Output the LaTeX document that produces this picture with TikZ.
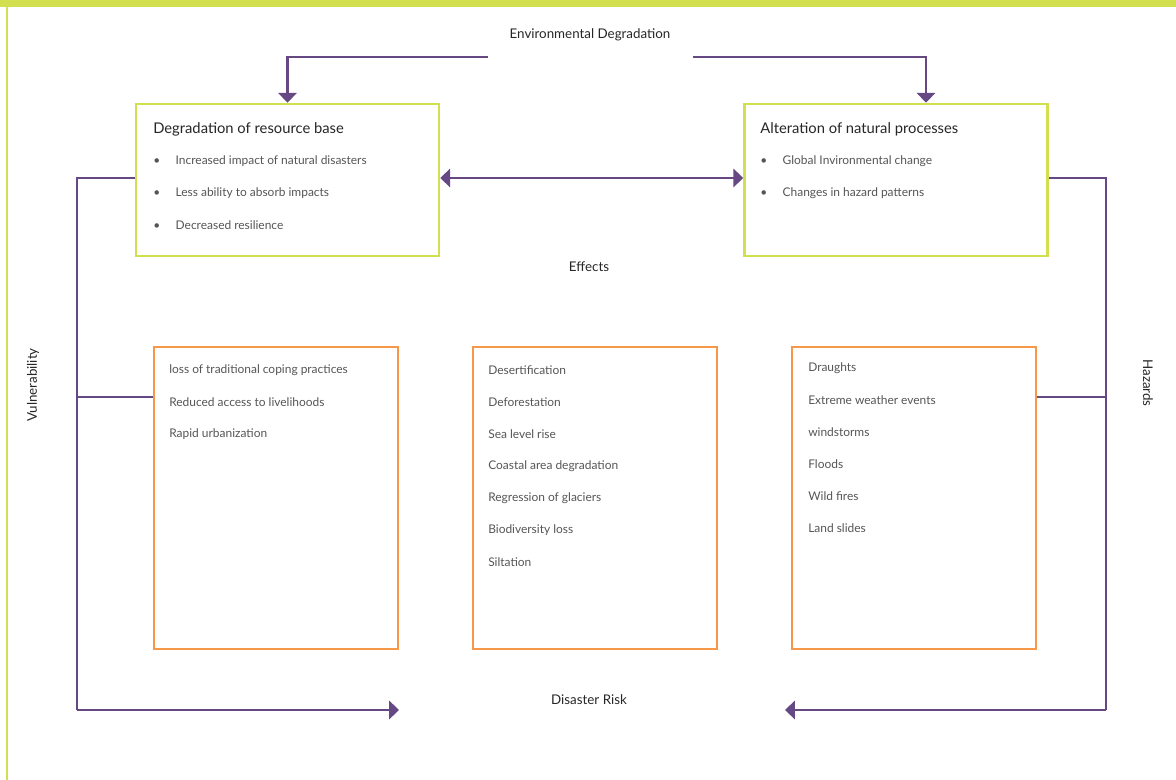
\documentclass[tikz,border=0pt]{standalone}
\usepackage{fontspec}
\setmainfont{Lato}
\usetikzlibrary{arrows.meta,positioning}
\definecolor{lime}{RGB}{210,224,80}
\definecolor{plum}{RGB}{102,72,132}
\definecolor{tang}{RGB}{247,152,72}
\definecolor{ink}{RGB}{85,85,85}

\begin{document}
\begin{tikzpicture}[
  x=0.025cm, y=-0.025cm,
  >={Triangle[length=7pt,width=13pt]},
  effbox/.style={draw=lime,line width=1.8pt,minimum width=303*0.025cm,
                 minimum height=152*0.025cm,inner sep=0pt},
  listbox/.style={draw=tang,line width=1.5pt,minimum width=244*0.025cm,
                  minimum height=302*0.025cm,inner sep=0pt},
  head/.style={font=\fontsize{10.5}{12}\selectfont,text=black!85,anchor=west,inner sep=0pt},
  item/.style={font=\fontsize{8.5}{10}\selectfont,text=ink,anchor=west,inner sep=0pt},
  lbl/.style={font=\fontsize{9.5}{11}\selectfont,text=black!85,inner sep=0pt},
  link/.style={plum,line width=1.8pt},
  arr/.style={->,plum,line width=1.8pt}
]
\useasboundingbox (0,0) rectangle (1176,780);
\fill[lime] (0,0) rectangle (1176,7);
\draw[lime,line width=1.5pt] (7,7) -- (7,780);

% top boxes
\node[effbox] (deg) at (287.5,180) {};
\node[effbox] (alt) at (896,180) {};
\node[head] (degT) at (153,129) {Degradation of resource base};
\node[head] (altT) at (760,129) {Alteration of natural processes};
\foreach \t [count=\i] in {Increased impact of natural disasters,
    Less ability to absorb impacts,Decreased resilience}{
  \node[item] at (153,129+32*\i) {\textbullet\hspace{11pt}\t};
}
\foreach \t [count=\i] in {Global Invironmental change,
    Changes in hazard patterns}{
  \node[item] at (760,129+32*\i) {\textbullet\hspace{11pt}\t};
}

% list boxes
\node[listbox] (vul) at (276,498) {};
\node[listbox] (eff) at (595,498) {};
\node[listbox] (haz) at (914,498) {};
\foreach \t [count=\i] in {loss of traditional coping practices,
    Reduced access to livelihoods,Rapid urbanization}{
  \node[item] at (169,338+32*\i) {\t};
}
\foreach \t [count=\i] in {Desertification,Deforestation,Sea level rise,
    Coastal area degradation,Regression of glaciers,Biodiversity loss,Siltation}{
  \node[item] at (488,338+32*\i) {\t};
}
\foreach \t [count=\i] in {Draughts,Extreme weather events,windstorms,
    Floods,Wild fires,Land slides}{
  \node[item] at (808,336+32*\i) {\t};
}

% labels
\node[lbl] (env) at (590,35) {Environmental Degradation};
\node[lbl] (effects) at (589,267) {Effects};
\node[lbl] (risk) at (589,700) {Disaster Risk};
\node[lbl,rotate=90] (vlab) at (33,385) {Vulnerability};
\node[lbl,rotate=-90] (hlab) at (1148,383) {Hazards};

% connectors
\coordinate (envL) at (488,57);
\coordinate (envR) at (693,57);
\coordinate (riskL) at (399,710);
\coordinate (riskR) at (785,710);
\draw[arr] (envL) -| (deg.north);
\draw[arr] (envR) -| (alt.north -| 926,0);
\draw[arr,<->] (deg.east |- 0,178) -- (alt.west |- 0,178);
\draw[link] (deg.west |- 0,178) -- (77,178) -- (77,710);
\draw[arr] (77,710) -- (riskL);
\draw[link] (vul.west |- 0,397) -- (77,397);
\draw[link] (alt.east |- 0,178) -- (1106,178) -- (1106,710);
\draw[arr] (1106,710) -- (riskR);
\draw[link] (haz.east |- 0,397) -- (1106,397);
\end{tikzpicture}
\end{document}
